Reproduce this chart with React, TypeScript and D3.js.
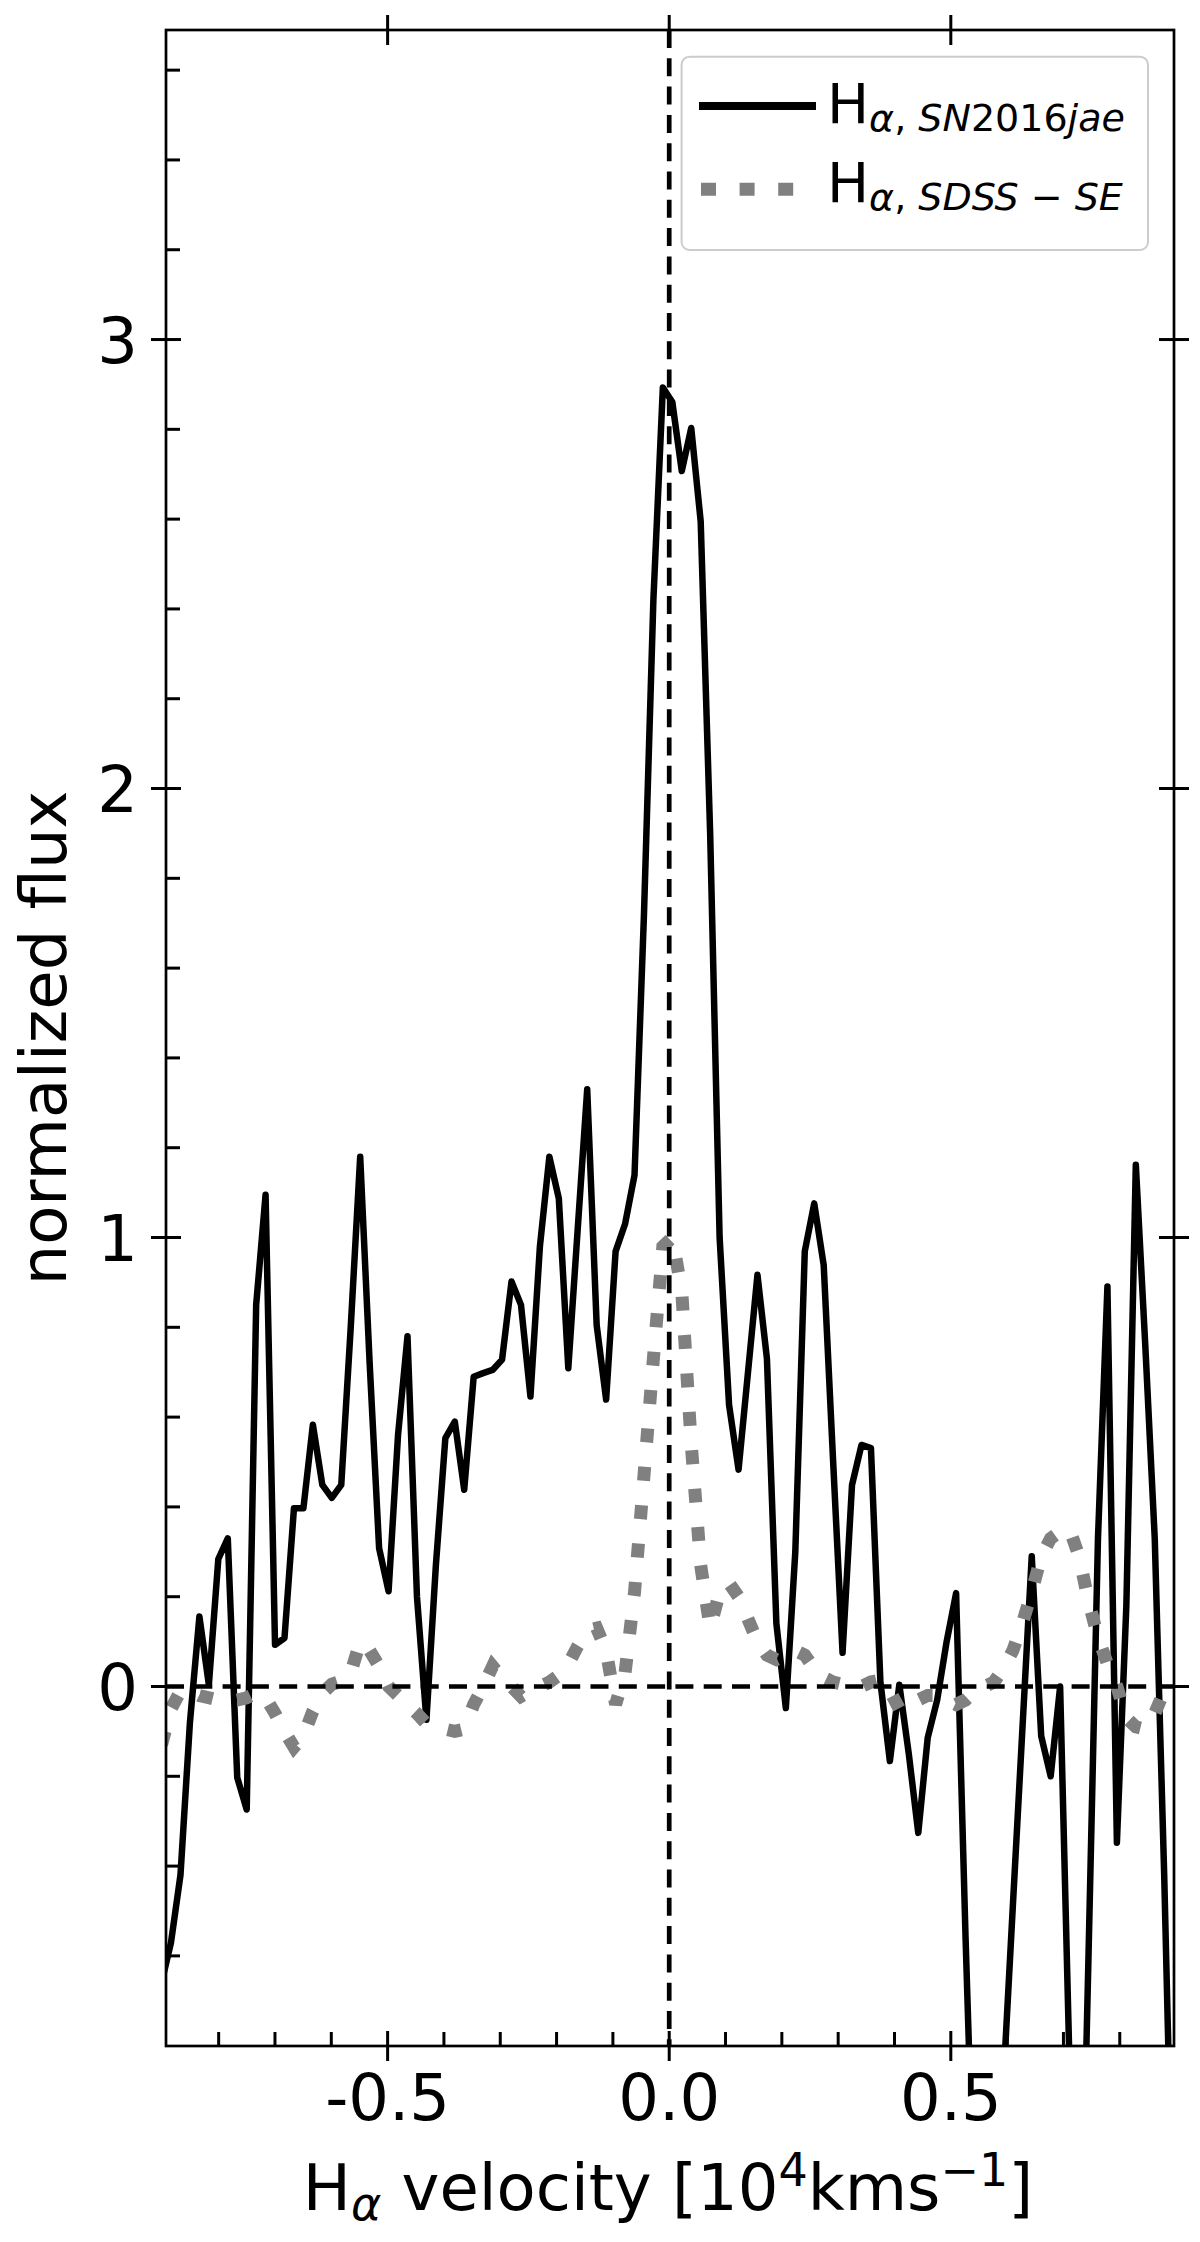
import { useMemo } from "react";
import * as d3 from "d3";

// velocity grid [10^4 km/s], shared by both spectra
const velocity = [
  -0.9014, -0.8846, -0.8678, -0.851, -0.8342, -0.8174, -0.8006, -0.7838, -0.767, -0.7502,
  -0.7334, -0.7167, -0.6999, -0.6831, -0.6663, -0.6495, -0.6327, -0.6159, -0.5991, -0.5823,
  -0.5655, -0.5487, -0.5319, -0.5151, -0.4983, -0.4815, -0.4647, -0.4479, -0.4311, -0.4143,
  -0.3975, -0.3807, -0.364, -0.3472, -0.3304, -0.3136, -0.2968, -0.28, -0.2632, -0.2464,
  -0.2296, -0.2128, -0.196, -0.1792, -0.1624, -0.1456, -0.1288, -0.112, -0.0952, -0.0784,
  -0.0616, -0.0448, -0.0281, -0.0113, 0.0055, 0.0223, 0.0391, 0.0559, 0.0727, 0.0895,
  0.1063, 0.1231, 0.1399, 0.1567, 0.1735, 0.1903, 0.2071, 0.2239, 0.2407, 0.2575,
  0.2743, 0.2911, 0.3078, 0.3246, 0.3414, 0.3582, 0.375, 0.3918, 0.4086, 0.4254,
  0.4422, 0.459, 0.4758, 0.4926, 0.5094, 0.5262, 0.543, 0.5598, 0.5766, 0.5934,
  0.6101, 0.6269, 0.6437, 0.6605, 0.6773, 0.6941, 0.7109, 0.7277, 0.7445, 0.7613,
  0.7781, 0.7949, 0.8117, 0.8285, 0.8453, 0.8621, 0.8789, 0.8957,
];

// H-alpha, SN2016jae
const fluxSN = [
  -0.66, -0.57, -0.42, -0.08, 0.156, 0.004, 0.284, 0.33, -0.203, -0.274,
  0.85, 1.095, 0.093, 0.108, 0.397, 0.397, 0.583, 0.449, 0.42, 0.449,
  0.8, 1.18, 0.72, 0.308, 0.212, 0.56, 0.78, 0.2, -0.074, 0.27,
  0.553, 0.59, 0.438, 0.69, 0.698, 0.705, 0.728, 0.902, 0.85, 0.646,
  0.98, 1.18, 1.087, 0.709, 1.02, 1.33, 0.805, 0.639, 0.969, 1.03,
  1.139, 1.72, 2.42, 2.893, 2.861, 2.707, 2.803, 2.595, 1.9, 1.0,
  0.627, 0.483, 0.7, 0.917, 0.73, 0.14, -0.048, 0.3, 0.969, 1.076,
  0.939, 0.5, 0.075, 0.449, 0.538, 0.531, 0.01, -0.166, 0.004, -0.15,
  -0.326, -0.114, -0.03, 0.1, 0.208, -0.56, -1.24, -1.6, -1.3, -0.88,
  -0.49, -0.1, 0.29, -0.11, -0.2, 0.0, -0.85, -1.5, -0.6, 0.33,
  0.891, -0.348, 0.18, 1.162, 0.76, 0.33, -0.42, -1.3,
];

// H-alpha, SDSS-SE
const fluxSDSS = [
  -0.13, -0.05, -0.01, -0.01, -0.02, -0.025, -0.03, -0.03, -0.03, -0.025,
  -0.015, -0.025, -0.06, -0.1, -0.135, -0.11, -0.055, -0.015, 0.005, 0.012,
  0.03, 0.1, 0.08, 0.045, 0.0, -0.02, -0.04, -0.06, -0.083, -0.09,
  -0.095, -0.1, -0.095, -0.04, 0.0, 0.045, 0.02, 0.0, -0.022, -0.01,
  0.0, 0.01, 0.025, 0.05, 0.09, 0.125, 0.13, 0.08, -0.04, 0.03,
  0.21, 0.47, 0.73, 0.98, 1.0, 0.88, 0.54, 0.27, 0.13, 0.21,
  0.23, 0.2, 0.15, 0.1, 0.07, 0.06, 0.07, 0.08, 0.07, 0.04,
  0.02, 0.01, 0.005, 0.0, 0.0, 0.01, 0.015, -0.01, -0.05, -0.05,
  -0.03, -0.02, -0.02, -0.03, -0.04, -0.03, -0.01, 0.0, 0.01, 0.04,
  0.08, 0.14, 0.21, 0.29, 0.33, 0.345, 0.35, 0.29, 0.19, 0.11,
  0.05, 0.0, -0.07, -0.09, -0.095, -0.06, -0.01, 0.0,
];

const xMajor = [-0.5, 0, 0.5];
const xMajorLabels = ["-0.5", "0.0", "0.5"];
const xMinor = [-0.8, -0.7, -0.6, -0.4, -0.3, -0.2, -0.1, 0.1, 0.2, 0.3, 0.4, 0.6, 0.7, 0.8];
const yMajor = [0, 1, 2, 3];
const yMajorLabels = ["0", "1", "2", "3"];
const yMinor = [-0.6, -0.4, -0.2, 0.2, 0.4, 0.6, 0.8, 1.2, 1.4, 1.6, 1.8, 2.2, 2.4, 2.6, 2.8, 3.2, 3.4, 3.6];

const FONT = "DejaVu Sans";

const App = () => {
  const left = 166;
  const right = 1174;
  const top = 30;
  const bottom = 2046;

  const x = useMemo(() => d3.scaleLinear().domain([-0.8935, 0.8963]).range([left, right]), []);
  const y = useMemo(() => d3.scaleLinear().domain([-0.8007, 3.6894]).range([bottom, top]), []);

  const line = d3
    .line<number>()
    .x((_, i) => x(velocity[i]))
    .y((d) => y(d));

  const major = 15;
  const minor = 14;

  return (
    <svg
      width={1200}
      height={2242}
      viewBox="0 0 1200 2242"
      style={{ position: "absolute", left: 0, top: 0, background: "#fff" }}
      fontFamily={FONT}
    >
      <defs>
        <clipPath id="plot-area">
          <rect x={left} y={top} width={right - left} height={bottom - top} />
        </clipPath>
      </defs>
      <rect x={0} y={0} width={1200} height={2242} fill="#fff" />

      <g clipPath="url(#plot-area)">
        <path d={line(fluxSN) ?? ""} fill="none" stroke="#000" strokeWidth={6.5} strokeLinejoin="round" />
        <path
          d={line(fluxSDSS) ?? ""}
          fill="none"
          stroke="#808080"
          strokeWidth={13}
          strokeDasharray="14 24.5"
          strokeLinecap="butt"
        />
        <line x1={left} x2={right} y1={y(0)} y2={y(0)} stroke="#000" strokeWidth={4.7} strokeDasharray="18 10.3" />
        <line x1={x(0)} x2={x(0)} y1={top} y2={bottom} stroke="#000" strokeWidth={4.7} strokeDasharray="18 10.3" />
      </g>

      {/* frame */}
      <rect x={left} y={top} width={right - left} height={bottom - top} fill="none" stroke="#000" strokeWidth={2.7} />

      {/* x ticks */}
      {xMinor.map((v) => (
        <line key={`xm${v}`} x1={x(v)} x2={x(v)} y1={bottom} y2={bottom - minor} stroke="#000" strokeWidth={3} />
      ))}
      {xMajor.map((v, i) => (
        <g key={`xM${v}`}>
          <line x1={x(v)} x2={x(v)} y1={bottom - major} y2={bottom + major} stroke="#000" strokeWidth={3} />
          <line x1={x(v)} x2={x(v)} y1={top - major} y2={top + major} stroke="#000" strokeWidth={3} />
          <text x={x(v)} y={2120} fontSize={64} textAnchor="middle" fill="#000">
            {xMajorLabels[i]}
          </text>
        </g>
      ))}

      {/* y ticks */}
      {yMinor.map((v) => (
        <line key={`ym${v}`} x1={left} x2={left + minor} y1={y(v)} y2={y(v)} stroke="#000" strokeWidth={3} />
      ))}
      {yMajor.map((v, i) => (
        <g key={`yM${v}`}>
          <line x1={left - major} x2={left + major} y1={y(v)} y2={y(v)} stroke="#000" strokeWidth={3} />
          <line x1={right - major} x2={right + major} y1={y(v)} y2={y(v)} stroke="#000" strokeWidth={3} />
          <text x={138} y={y(v) + 23.5} fontSize={64} textAnchor="end" fill="#000">
            {yMajorLabels[i]}
          </text>
        </g>
      ))}

      {/* axis labels */}
      <text x={668} y={2210} fontSize={64} textAnchor="middle" fill="#000">
        H
        <tspan fontSize={46} fontStyle="italic" dy={10}>α</tspan>
        <tspan dy={-10}> velocity [10</tspan>
        <tspan fontSize={46} dy={-24}>4</tspan>
        <tspan dy={24}>kms</tspan>
        <tspan fontSize={46} dy={-24}>−1</tspan>
        <tspan dy={24}>]</tspan>
      </text>
      <text transform="translate(66,1038) rotate(-90)" fontSize={64} textAnchor="middle" fill="#000">
        normalized flux
      </text>

      {/* legend */}
      <g>
        <rect x={681.6} y={56.7} width={466.4} height={193.3} rx={8} fill="#fff" fillOpacity={0.8} stroke="#cccccc" strokeWidth={2} />
        <line x1={699} x2={816} y1={106} y2={106} stroke="#000" strokeWidth={8} />
        <line x1={701} x2={816} y1={189.3} y2={189.3} stroke="#808080" strokeWidth={13} strokeDasharray="15 23.6" />
        <text x={827} y={123.3} fontSize={56} fill="#000">
          H
          <tspan fontSize={38} dy={8} fontStyle="italic">α</tspan>
          <tspan fontSize={38}>, </tspan>
          <tspan fontSize={38} fontStyle="italic">SN</tspan>
          <tspan fontSize={38}>2016</tspan>
          <tspan fontSize={38} fontStyle="italic">jae</tspan>
        </text>
        <text x={827} y={201.7} fontSize={56} fill="#000">
          H
          <tspan fontSize={38} dy={8} fontStyle="italic">α</tspan>
          <tspan fontSize={38}>, </tspan>
          <tspan fontSize={38} fontStyle="italic">SDSS</tspan>
          <tspan fontSize={38}> − </tspan>
          <tspan fontSize={38} fontStyle="italic">SE</tspan>
        </text>
      </g>
    </svg>
  );
};

export default App;
